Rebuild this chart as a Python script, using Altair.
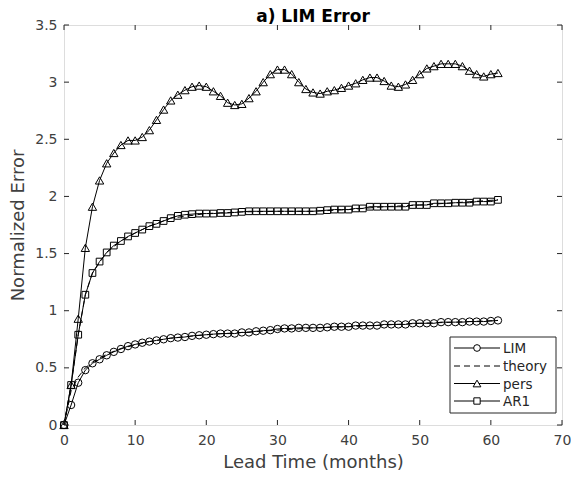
import altair as alt
import pandas as pd

months = list(range(62))

lim = [0, 0.175, 0.37, 0.48, 0.54, 0.575, 0.61, 0.64, 0.665, 0.69, 0.705, 0.72, 0.73, 0.74,
       0.75, 0.76, 0.765, 0.77, 0.78, 0.785, 0.79, 0.795, 0.80, 0.80, 0.80, 0.81, 0.81, 0.82,
       0.825, 0.83, 0.84, 0.845, 0.845, 0.85, 0.85, 0.85, 0.85, 0.855, 0.86, 0.86, 0.86,
       0.87, 0.87, 0.87, 0.87, 0.88, 0.88, 0.88, 0.88, 0.89, 0.89, 0.89, 0.89, 0.90, 0.90,
       0.90, 0.90, 0.905, 0.905, 0.905, 0.91, 0.915]

pers = [0, 0.35, 0.93, 1.55, 1.91, 2.14, 2.29, 2.38, 2.45, 2.49, 2.49, 2.52, 2.58, 2.67, 2.76,
        2.84, 2.89, 2.93, 2.96, 2.97, 2.96, 2.92, 2.88, 2.82, 2.80, 2.81, 2.86, 2.92, 3.00,
        3.07, 3.11, 3.11, 3.07, 3.00, 2.94, 2.91, 2.90, 2.92, 2.93, 2.95, 2.97, 2.99, 3.02,
        3.04, 3.04, 3.01, 2.97, 2.96, 2.98, 3.02, 3.07, 3.12, 3.14, 3.16, 3.16, 3.16, 3.14,
        3.10, 3.07, 3.05, 3.07, 3.08]

ar1 = [0, 0.35, 0.79, 1.14, 1.33, 1.43, 1.51, 1.57, 1.61, 1.65, 1.68, 1.71, 1.74, 1.76, 1.785,
       1.81, 1.83, 1.84, 1.845, 1.85, 1.85, 1.85, 1.855, 1.855, 1.86, 1.865, 1.87, 1.87, 1.87,
       1.87, 1.87, 1.87, 1.87, 1.87, 1.87, 1.87, 1.875, 1.88, 1.885, 1.885, 1.885, 1.895,
       1.895, 1.91, 1.91, 1.91, 1.91, 1.91, 1.91, 1.925, 1.925, 1.925, 1.94, 1.94, 1.94,
       1.945, 1.945, 1.945, 1.955, 1.955, 1.955, 1.97]

theory_months = [0, 1, 2, 3, 4, 6, 8, 10, 12, 15, 20, 25, 30, 35, 40, 45, 50, 55, 61]
theory_lim = [0, 0.30, 0.42, 0.50, 0.55, 0.62, 0.67, 0.70, 0.73, 0.76, 0.79, 0.81, 0.83, 0.85,
              0.86, 0.875, 0.89, 0.90, 0.915]
theory_ar1 = [0, 0.35, 0.79, 1.14, 1.33, 1.51, 1.61, 1.68, 1.74, 1.81, 1.85, 1.865, 1.87, 1.87,
              1.885, 1.91, 1.925, 1.945, 1.97]

x_ticks = [0, 10, 20, 30, 40, 50, 60, 70]
y_ticks = [0, 0.5, 1, 1.5, 2, 2.5, 3, 3.5]

W, H = 498, 400
INK = "#262626"
LAB = "#404040"
FONT = "DejaVu Sans"

rows = []
for name, vals in [("LIM", lim), ("pers", pers), ("AR1", ar1)]:
    for m, v in zip(months, vals):
        rows.append({"month": m, "err": v, "series": name})
df = pd.DataFrame(rows)

trows = []
for name, vals in [("LIM", theory_lim), ("AR1", theory_ar1)]:
    for m, v in zip(theory_months, vals):
        trows.append({"month": m, "err": v, "series": name})
tdf = pd.DataFrame(trows)

xs = alt.Scale(domain=[0, 70], nice=False, zero=False)
ys = alt.Scale(domain=[0, 3.5], nice=False, zero=False)

x_axis = alt.Axis(values=x_ticks, title="Lead Time (months)", format="d",
                  grid=False, ticks=False, domain=False, labelPadding=8, titlePadding=6,
                  labelFontSize=14, titleFontSize=18, labelColor=LAB, titleColor=LAB,
                  labelFont=FONT, titleFont=FONT, titleFontWeight="normal", labelFlush=False)
y_axis = alt.Axis(values=y_ticks, title="Normalized Error", format="~g",
                  grid=False, ticks=False, domain=False, labelPadding=7, titlePadding=7,
                  labelFontSize=14, titleFontSize=18, labelColor=LAB, titleColor=LAB,
                  labelFont=FONT, titleFont=FONT, titleFontWeight="normal", labelFlush=False)
X = alt.X("month:Q", scale=xs, axis=x_axis)
Y = alt.Y("err:Q", scale=ys, axis=y_axis)

layers = []
theory = alt.Chart(tdf).mark_line(color="black", strokeDash=[6, 4], strokeWidth=1).encode(
    x=X, y=Y, detail="series:N")
layers.append(theory)

shapes = {"LIM": ("circle", 55), "pers": ("triangle-up", 70), "AR1": ("square", 45)}
for name, (shp, sz) in shapes.items():
    sub = df[df.series == name]
    line = alt.Chart(sub).mark_line(color="black", strokeWidth=1).encode(x=X, y=Y)
    pts = alt.Chart(sub).mark_point(shape=shp, size=sz, color="black", filled=False,
                                    strokeWidth=1, opacity=1).encode(x=X, y=Y)
    layers += [line, pts]

# inward ticks, drawn through the same scales
xt = pd.DataFrame({"month": x_ticks})
yt = pd.DataFrame({"err": y_ticks})
layers.append(alt.Chart(xt).mark_rule(color=INK).encode(x=X, y=alt.value(H), y2=alt.value(H - 5)))
layers.append(alt.Chart(xt).mark_rule(color=INK).encode(x=X, y=alt.value(0), y2=alt.value(5)))
layers.append(alt.Chart(yt).mark_rule(color=INK).encode(y=Y, x=alt.value(0), x2=alt.value(5)))
layers.append(alt.Chart(yt).mark_rule(color=INK).encode(y=Y, x=alt.value(W), x2=alt.value(W - 5)))

# legend
one = alt.InlineData(values=[{"a": 1}])
LX0, LX1, LY0, LY1 = 386, 492, 312, 388
layers.append(alt.Chart(one).mark_rect(fill="white", stroke=INK, strokeWidth=1).encode(
    x=alt.value(LX0), x2=alt.value(LX1), y=alt.value(LY0), y2=alt.value(LY1)))
entries = [("LIM", "circle", 45, None, 323), ("theory", None, 0, [6, 4], 341),
           ("pers", "triangle-up", 60, None, 358.5), ("AR1", "square", 40, None, 376)]
for label, shp, sz, dash, yy in entries:
    rule_kw = dict(color="black", strokeWidth=1)
    if dash:
        rule_kw["strokeDash"] = dash
    layers.append(alt.Chart(one).mark_rule(**rule_kw).encode(
        x=alt.value(LX0 + 4), x2=alt.value(LX0 + 50), y=alt.value(yy)))
    if shp:
        layers.append(alt.Chart(one).mark_point(shape=shp, size=sz, color="black", filled=False,
                                                fill="white", fillOpacity=1, strokeWidth=1,
                                                opacity=1).encode(
            x=alt.value(LX0 + 27), y=alt.value(yy)))
    layers.append(alt.Chart(one).mark_text(align="left", baseline="middle", fontSize=13.5,
                                           font=FONT, color=INK).encode(
        x=alt.value(LX0 + 53), y=alt.value(yy + 1), text=alt.value(label)))

chart = alt.layer(*layers).properties(
    width=W, height=H,
    title=alt.TitleParams("a) LIM Error", font=FONT, fontSize=17, fontWeight="bold",
                          color="black", offset=4, dy=12, anchor="middle", frame="group"),
    autosize=alt.AutoSizeParams(type="none"),
    padding={"left": 56, "top": 17, "right": 9, "bottom": 45},
).configure_view(stroke=INK, strokeWidth=1).configure(background="white")

chart.save("out.html", embed_options={"renderer": "svg", "actions": False})
